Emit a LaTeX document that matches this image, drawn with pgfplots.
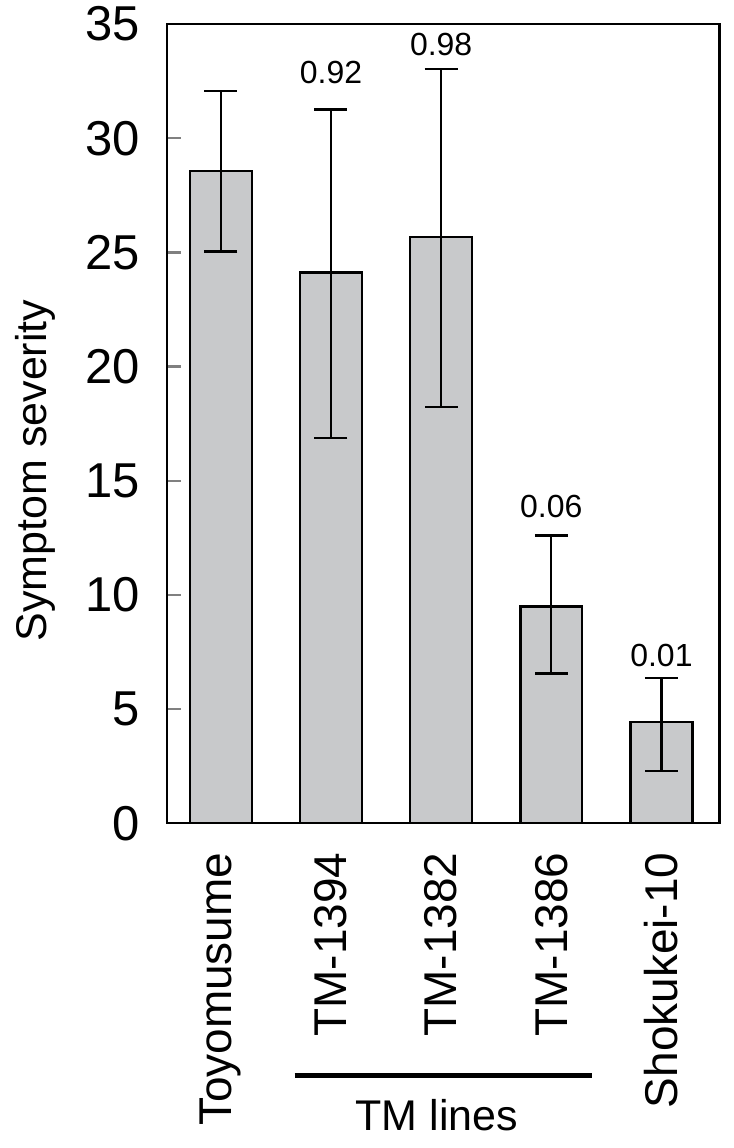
\documentclass[border=0pt]{standalone}
\usepackage{pgfplots}
\pgfplotsset{compat=1.18}
\usepackage{pgfplotstable}
\usepackage{fontspec}
\setmainfont{Liberation Sans}
\definecolor{barfill}{RGB}{200,201,203}
\pgfplotstableread{
x y ep em
0 28.57 3.49 3.54
1 24.12 7.14 7.25
2 25.68 7.36 7.44
3 9.49 3.11 2.93
4 4.43 1.93 2.14
}\datatab
\begin{document}
\begin{tikzpicture}
\begin{axis}[
  scale only axis,
  width=276.5pt, height=400pt,
  xmin=-0.49, xmax=4.526,
  ymin=0, ymax=35,
  axis line style={line width=1.2pt},
  ytick={0,5,...,35},
  xtick={0,1,2,3,4},
  xticklabels={Toyomusume,TM-1394,TM-1382,TM-1386,Shokukei-10},
  extra x ticks={0.5,1.5,2.5,3.5},
  extra x tick labels={},
  extra x tick style={major tick length=7.5pt, tick style={line width=1.2pt}},
  xtick style={draw=none},
  ytick style={line width=1.2pt},
  major tick length=7pt,
  tick align=inside,
  xtick pos=bottom, ytick pos=left,
  /pgf/number format/assume math mode=true,
  yticklabel style={font=\fontsize{24.5}{27}\selectfont, xshift=-10pt},
  xticklabel style={font=\fontsize{23}{26}\selectfont, rotate=90, anchor=east, inner sep=0pt, xshift=-14.5pt},
  clip=false,
]
\addplot[ybar, bar width=31pt, fill=barfill, draw=black, line width=1.2pt,
  error bars/.cd, y dir=both, y explicit,
  error bar style={line width=1.2pt},
  error mark options={line width=1.2pt, mark size=8.25pt, rotate=90}]
  table[x=x, y=y, y error plus=ep, y error minus=em]{\datatab};
\node[font=\fontsize{16}{18}\selectfont] at (axis cs:1,32.87) {0.92};
\node[font=\fontsize{16}{18}\selectfont] at (axis cs:2,34.11) {0.98};
\node[font=\fontsize{16}{18}\selectfont] at (axis cs:3,13.87) {0.06};
\node[font=\fontsize{16}{18}\selectfont] at (axis cs:4,7.35) {0.01};
\node[font=\fontsize{21.5}{24}\selectfont, rotate=90] at ([xshift=-66pt]axis cs:-0.49,15.45) {Symptom severity};
\draw[line width=2.5pt] ([yshift=-126pt]axis cs:0.67,0) -- ([yshift=-126pt]axis cs:3.37,0);
\node[font=\fontsize{21.5}{24}\selectfont] at ([yshift=-146pt]axis cs:1.96,0) {TM lines};
\end{axis}
\path ([shift={(-83.5pt,-162.5pt)}]current axis.south west) rectangle ([shift={(7pt,11.5pt)}]current axis.north east);
\end{tikzpicture}
\end{document}
